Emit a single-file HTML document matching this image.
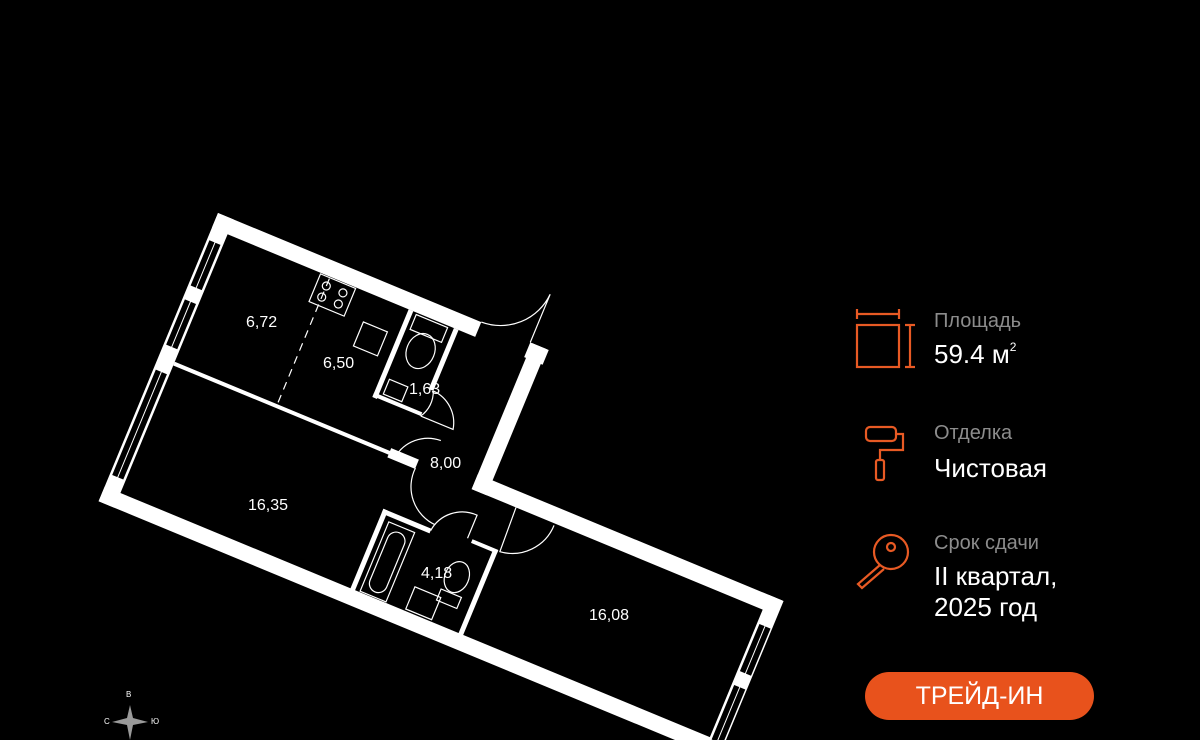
<!DOCTYPE html>
<html><head><meta charset="utf-8"><style>
html,body{margin:0;padding:0;background:#000;width:1200px;height:740px;overflow:hidden;}
body{position:relative;font-family:"Liberation Sans",sans-serif;}
.lab{position:absolute;color:#fff;font-size:16px;}
.g{position:absolute;color:#8c8c8c;font-size:20px;left:934px;}
.w{position:absolute;color:#fff;font-size:26px;left:934px;}
.btn{position:absolute;left:865px;top:672px;width:229px;height:48px;border-radius:24px;background:#e8521c;color:#fff;font-size:25px;text-align:center;line-height:48px;}
</style></head><body>
<svg width="1200" height="740" style="position:absolute;left:0;top:0;display:block">
<g transform="translate(218,213) rotate(22.5)" fill="#fff">
<rect x="0" y="0" width="285" height="16"/>
<rect x="338" y="0" width="20" height="16"/>
<rect x="0" y="0" width="17" height="312"/>
<rect x="340" y="0" width="16" height="158"/>
<rect x="340" y="142" width="330" height="16"/>
<rect x="655" y="142" width="16" height="180"/>
<rect x="0" y="296" width="720" height="16"/>
<g fill="#000" stroke="#fff" stroke-width="1">
<rect x="2" y="28" width="13" height="50"/>
<rect x="2" y="92" width="13" height="50"/>
<rect x="2" y="168" width="13" height="115"/>
<rect x="657" y="172" width="13" height="52"/>
<rect x="657" y="238" width="13" height="60"/>
</g>
<g stroke="#fff" stroke-width="1">
<line x1="8.5" y1="28" x2="8.5" y2="78"/><line x1="8.5" y1="92" x2="8.5" y2="142"/><line x1="8.5" y1="168" x2="8.5" y2="283"/>
<line x1="663.5" y1="172" x2="663.5" y2="224"/><line x1="663.5" y1="238" x2="663.5" y2="298"/>
</g>
<rect x="17" y="154" width="240" height="4"/>
<rect x="250" y="151" width="30" height="10"/>
<rect x="213" y="16" width="5" height="95"/>
<rect x="213" y="106" width="52" height="4"/>
<rect x="262" y="16" width="5" height="66"/>
<rect x="266" y="210" width="52" height="5"/>
<rect x="266" y="210" width="5" height="90"/>
<rect x="383" y="205" width="5" height="95"/>
<rect x="360" y="204" width="28" height="4"/>
<g fill="none" stroke="#fff" stroke-width="1.2">
<line x1="128" y1="18" x2="128" y2="152" stroke-dasharray="8,6"/>
<rect x="118" y="17" width="38" height="30"/>
<circle cx="128" cy="26" r="4"/><circle cx="146" cy="26" r="4"/><circle cx="128" cy="38" r="4"/><circle cx="146" cy="38" r="4"/>
<rect x="176" y="45" width="26" height="26"/>
<rect x="222" y="88" width="20" height="16"/>
<ellipse cx="240" cy="50" rx="14" ry="18"/>
<rect x="222" y="18" width="34" height="16"/>
<path d="M285 0 A55 55 0 0 0 338 -52 L338 0"/>
<path d="M267 82 A30 30 0 0 1 265 110"/>
<path d="M265 110 L300 110 A35 35 0 0 0 267 82"/>
<path d="M257 158 A38 38 0 0 1 293 125"/>
<path d="M280 160 A42 42 0 0 0 320 205"/>
<path d="M318 212 A36 36 0 0 1 355 180 L355 205"/>
<path d="M388 158 L390 205 A45 45 0 0 0 430 160"/>
<rect x="276" y="220" width="28" height="75"/>
<rect x="281" y="226" width="18" height="64" rx="9"/>
<rect x="325" y="270" width="28" height="24"/>
<ellipse cx="360" cy="245" rx="12" ry="16"/>
<rect x="350" y="262" width="22" height="12"/>
</g>
</g>
<g fill="#9a9a9a">
<path d="M130 705 L133 718 L148 722 L133 725 L130 740 L127 725 L112 722 L127 718 Z"/>
</g>
<g fill="none" stroke="#e85a24" stroke-width="2.2">
<rect x="857" y="325" width="42" height="42"/>
<line x1="857" y1="314" x2="899" y2="314"/><line x1="857" y1="309" x2="857" y2="319"/><line x1="899" y1="309" x2="899" y2="319"/>
<line x1="910" y1="325" x2="910" y2="367"/><line x1="905" y1="325" x2="915" y2="325"/><line x1="905" y1="367" x2="915" y2="367"/>
<rect x="866" y="427" width="30" height="14" rx="4"/>
<path d="M896 434 L903 434 L903 450 L880 450 L880 460"/>
<rect x="876" y="460" width="8" height="20" rx="2"/>
<circle cx="891" cy="552" r="17"/><circle cx="891" cy="547" r="4"/>
<path d="M880 565 L858 584 L862 588 L884 569"/>
</g>
</svg>
<div class="lab" style="left:246px;top:314px">6,72</div>
<div class="lab" style="left:323px;top:355px">6,50</div>
<div class="lab" style="left:409px;top:381px">1,63</div>
<div class="lab" style="left:430px;top:455px">8,00</div>
<div class="lab" style="left:248px;top:497px">16,35</div>
<div class="lab" style="left:421px;top:565px">4,18</div>
<div class="lab" style="left:589px;top:607px">16,08</div>
<div style="position:absolute;left:126px;top:690px;color:#fff;font-size:8px">В</div>
<div style="position:absolute;left:104px;top:717px;color:#fff;font-size:8px">С</div>
<div style="position:absolute;left:151px;top:717px;color:#fff;font-size:8px">Ю</div>
<div class="g" style="top:310px">Площадь</div>
<div class="w" style="top:339px">59.4 м<sup style="font-size:12px;vertical-align:12px;line-height:0">2</sup></div>
<div class="g" style="top:422px">Отделка</div>
<div class="w" style="top:453px">Чистовая</div>
<div class="g" style="top:532px">Срок сдачи</div>
<div class="w" style="top:561px;line-height:31px">II квартал,<br>2025 год</div>
<div class="btn">ТРЕЙД-ИН</div>
</body></html>
